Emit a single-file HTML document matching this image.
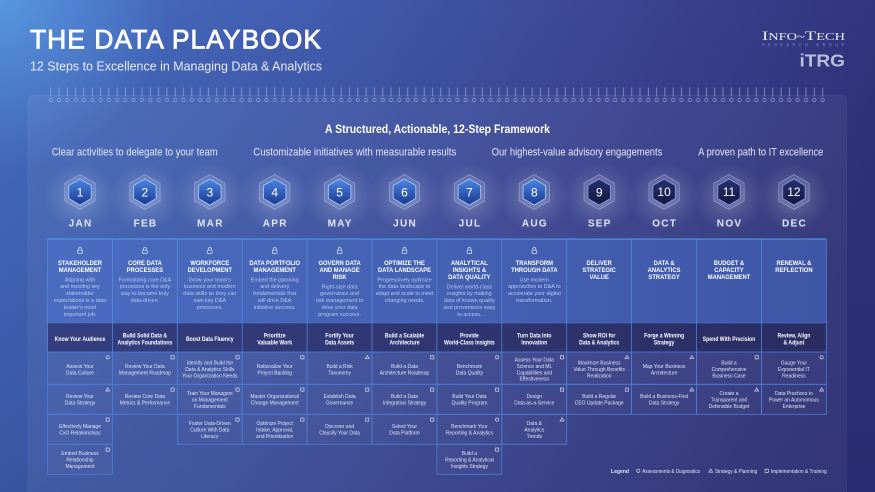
<!DOCTYPE html>
<html><head><meta charset="utf-8"><style>
html,body{margin:0;padding:0;background:#3a4a98;}
svg{display:block;}
text{font-family:"Liberation Sans",sans-serif;}
.ti{font-weight:bold;font-size:6.8px;fill:#fff;text-anchor:middle;}
.de{font-size:5.6px;fill:#b9c7ee;text-anchor:middle;}
.ba{font-weight:bold;font-size:6.4px;fill:#fff;text-anchor:middle;}
.ce{font-size:5.8px;fill:#dde5f8;text-anchor:middle;}
.mo{font-weight:bold;font-size:10px;fill:#e3e8f6;text-anchor:middle;letter-spacing:1.3px;}
.nu{font-size:12px;fill:#fff;text-anchor:middle;}
.sh{font-size:11px;fill:#e4e9f7;}
.lg{font-size:5.6px;fill:#dde5f8;}
.cell{fill:#ffffff;fill-opacity:.025;stroke:#4d7dd6;stroke-width:.8;}
.ic{fill:none;stroke:#d3dcf3;stroke-width:.7;}
</style></head><body>
<svg width="875" height="492" viewBox="0 0 875 492" xmlns="http://www.w3.org/2000/svg">
<defs>
<linearGradient id="bg" x1="0" y1="0" x2="875" y2="160" gradientUnits="userSpaceOnUse">
<stop offset="0" stop-color="#4670c4"/><stop offset=".35" stop-color="#425cae"/><stop offset=".7" stop-color="#3a4492"/><stop offset="1" stop-color="#30337a"/>
</linearGradient>
<linearGradient id="vd" x1="0" y1="0" x2="0" y2="1">
<stop offset="0" stop-color="#141650" stop-opacity="0"/><stop offset="1" stop-color="#141650" stop-opacity=".25"/>
</linearGradient>
<radialGradient id="tl" cx="0" cy="0" r="170" gradientUnits="userSpaceOnUse">
<stop offset="0" stop-color="#5fa6ec" stop-opacity=".7"/><stop offset="1" stop-color="#5fa6ec" stop-opacity="0"/>
</radialGradient>
<radialGradient id="gl">
<stop offset="0" stop-color="#ffffff" stop-opacity=".26"/><stop offset=".6" stop-color="#ffffff" stop-opacity=".08"/><stop offset="1" stop-color="#ffffff" stop-opacity="0"/>
</radialGradient>
<linearGradient id="hb" x1="0" y1="0" x2="0" y2="1">
<stop offset="0" stop-color="#4a86e2"/><stop offset="1" stop-color="#1a3990"/>
</linearGradient>
<linearGradient id="hd" x1="0" y1="0" x2="0" y2="1">
<stop offset="0" stop-color="#283072"/><stop offset="1" stop-color="#12173f"/>
</linearGradient>
<linearGradient id="ct" x1="47.5" y1="0" x2="826.3" y2="0" gradientUnits="userSpaceOnUse">
<stop offset="0" stop-color="#4a6cc0"/><stop offset="1" stop-color="#3f56a6"/>
</linearGradient>
<linearGradient id="bd" x1="47.5" y1="0" x2="826.3" y2="0" gradientUnits="userSpaceOnUse">
<stop offset="0" stop-color="#343f80"/><stop offset="1" stop-color="#2a2c62"/>
</linearGradient>
<pattern id="ring" x="46.5" y="84" width="8.3" height="20" patternUnits="userSpaceOnUse">
<line x1="4.2" y1="3.5" x2="4.2" y2="12.5" stroke="#a8b8e4" stroke-opacity=".75" stroke-width=".8"/>
<circle cx="4.2" cy="15.9" r="1.7" fill="none" stroke="#a8b8e4" stroke-opacity=".75" stroke-width=".7"/>
</pattern>
<g id="bb">
<polygon points="0,-17.5 15.16,-8.75 15.16,8.75 0,17.5 -15.16,8.75 -15.16,-8.75" fill="#ffffff" fill-opacity=".1" stroke="#c8d4ff" stroke-opacity=".45" stroke-width=".8"/>
<polygon points="0,-13 11.26,-6.5 11.26,6.5 0,13 -11.26,6.5 -11.26,-6.5" fill="url(#hb)" stroke="#9cc0f5" stroke-width="1"/>
</g>
<g id="bk">
<polygon points="0,-17.5 15.16,-8.75 15.16,8.75 0,17.5 -15.16,8.75 -15.16,-8.75" fill="#ffffff" fill-opacity=".1" stroke="#c8d4ff" stroke-opacity=".45" stroke-width=".8"/>
<polygon points="0,-13 11.26,-6.5 11.26,6.5 0,13 -11.26,6.5 -11.26,-6.5" fill="url(#hd)" stroke="#8198dc" stroke-width="1"/>
</g>
<ellipse id="gw" cx="0" cy="0" rx="36" ry="34" fill="url(#gl)"/>
<circle id="iC" cx="0" cy="0" r="1.6" class="ic"/>
<rect id="iS" x="-1.6" y="-1.6" width="3.2" height="3.2" class="ic"/>
<polygon id="iT" points="0,-1.8 1.9,1.4 -1.9,1.4" class="ic"/>
<g id="lk" fill="none" stroke="#dfe6f8" stroke-width=".7">
<path d="M-1.5 250.2 v-1.2 a1.5 1.5 0 0 1 3 0 v1.2"/>
<rect x="-2.3" y="250.2" width="4.6" height="3.2" rx=".4"/>
</g>
</defs>

<!-- background -->
<rect width="875" height="492" fill="url(#bg)"/>
<rect width="875" height="492" fill="url(#tl)"/>
<rect width="875" height="492" fill="url(#vd)"/>

<!-- panel -->
<rect x="28" y="95" width="818.5" height="410" rx="5" fill="#ffffff" fill-opacity=".05" stroke="#ffffff" stroke-opacity=".06" stroke-width=".8"/>
<rect x="46.5" y="84" width="780" height="20" fill="url(#ring)"/>

<!-- header -->
<text x="30" y="48.5" font-size="26.5" fill="#ffffff" stroke="#ffffff" stroke-width=".8" textLength="292" lengthAdjust="spacingAndGlyphs" letter-spacing="1">THE DATA PLAYBOOK</text>
<text x="30" y="70.5" font-size="12.5" fill="#e6ecf8" textLength="292" lengthAdjust="spacingAndGlyphs">12 Steps to Excellence in Managing Data &amp; Analytics</text>

<!-- logo -->
<text x="762" y="40" fill="#e8ebf6" textLength="83" lengthAdjust="spacingAndGlyphs" style="font-family:'Liberation Serif',serif"><tspan font-size="13">I</tspan><tspan font-size="10">NFO~</tspan><tspan font-size="13">T</tspan><tspan font-size="10">ECH</tspan></text>
<text x="762" y="45.8" font-size="3.6" fill="#9aa3cf" textLength="82" lengthAdjust="spacing">RESEARCH GROUP</text>
<text x="799.5" y="66.7" font-size="17.5" font-weight="bold" fill="#b9bfdc" textLength="45.5" lengthAdjust="spacingAndGlyphs">iTRG</text>

<!-- framework heading -->
<text x="325" y="133" font-size="12.3" font-weight="bold" fill="#ffffff" textLength="225" lengthAdjust="spacingAndGlyphs">A Structured, Actionable, 12-Step Framework</text>
<text class="sh" x="51.7" y="155.5" textLength="166" lengthAdjust="spacingAndGlyphs">Clear activities to delegate to your team</text>
<text class="sh" x="253.3" y="155.5" textLength="203" lengthAdjust="spacingAndGlyphs">Customizable initiatives with measurable results</text>
<text class="sh" x="491.7" y="155.5" textLength="170.6" lengthAdjust="spacingAndGlyphs">Our highest-value advisory engagements</text>
<text class="sh" x="698.3" y="155.5" textLength="125" lengthAdjust="spacingAndGlyphs">A proven path to IT excellence</text>

<!-- glows -->
<use href="#gw" x="80" y="197"/><use href="#gw" x="144.9" y="197"/><use href="#gw" x="209.8" y="197"/><use href="#gw" x="274.7" y="197"/>
<use href="#gw" x="339.6" y="197"/><use href="#gw" x="404.5" y="197"/><use href="#gw" x="469.4" y="197"/><use href="#gw" x="534.3" y="197"/>
<use href="#gw" x="599.2" y="197"/><use href="#gw" x="664.1" y="197"/><use href="#gw" x="729" y="197"/><use href="#gw" x="793.9" y="197"/>

<!-- badges -->
<use href="#bb" x="80" y="192"/><use href="#bb" x="144.9" y="192"/><use href="#bb" x="209.8" y="192"/><use href="#bb" x="274.7" y="192"/>
<use href="#bb" x="339.6" y="192"/><use href="#bb" x="404.5" y="192"/><use href="#bb" x="469.4" y="192"/><use href="#bb" x="534.3" y="192"/>
<use href="#bk" x="599.2" y="192"/><use href="#bk" x="664.1" y="192"/><use href="#bk" x="729" y="192"/><use href="#bk" x="793.9" y="192"/>
<text class="nu" x="80" y="196.3">1</text><text class="nu" x="144.9" y="196.3">2</text><text class="nu" x="209.8" y="196.3">3</text><text class="nu" x="274.7" y="196.3">4</text>
<text class="nu" x="339.6" y="196.3">5</text><text class="nu" x="404.5" y="196.3">6</text><text class="nu" x="469.4" y="196.3">7</text><text class="nu" x="534.3" y="196.3">8</text>
<text class="nu" x="599.2" y="196.3">9</text><text class="nu" x="664.1" y="196" font-size="11">10</text><text class="nu" x="729" y="196" font-size="11">11</text><text class="nu" x="793.9" y="196" font-size="11">12</text>

<!-- months -->
<text class="mo" x="80.6" y="226.5">JAN</text><text class="mo" x="145.5" y="226.5">FEB</text><text class="mo" x="210.4" y="226.5">MAR</text><text class="mo" x="275.3" y="226.5">APR</text>
<text class="mo" x="340.2" y="226.5">MAY</text><text class="mo" x="405.1" y="226.5">JUN</text><text class="mo" x="470" y="226.5">JUL</text><text class="mo" x="534.9" y="226.5">AUG</text>
<text class="mo" x="599.8" y="226.5">SEP</text><text class="mo" x="664.7" y="226.5">OCT</text><text class="mo" x="729.6" y="226.5">NOV</text><text class="mo" x="794.5" y="226.5">DEC</text>

<!-- cards top -->
<rect x="47.5" y="239" width="778.8" height="84" fill="url(#ct)"/>
<rect x="47.5" y="323" width="778.8" height="29" fill="url(#bd)"/>
<line x1="47.5" y1="239" x2="826.3" y2="239" stroke="#4fa0ee" stroke-width="1"/>
<g stroke="#5a8fe0" stroke-width=".8" stroke-opacity=".85">
<line x1="47.5" y1="239" x2="47.5" y2="352"/><line x1="112.4" y1="239" x2="112.4" y2="352"/><line x1="177.3" y1="239" x2="177.3" y2="352"/>
<line x1="242.2" y1="239" x2="242.2" y2="352"/><line x1="307.1" y1="239" x2="307.1" y2="352"/><line x1="372" y1="239" x2="372" y2="352"/>
<line x1="436.9" y1="239" x2="436.9" y2="352"/><line x1="501.8" y1="239" x2="501.8" y2="352"/><line x1="566.7" y1="239" x2="566.7" y2="352"/>
<line x1="631.6" y1="239" x2="631.6" y2="352"/><line x1="696.5" y1="239" x2="696.5" y2="352"/><line x1="761.4" y1="239" x2="761.4" y2="352"/>
<line x1="826.3" y1="239" x2="826.3" y2="352"/>
<line x1="47.5" y1="323" x2="826.3" y2="323" stroke-opacity=".5"/>
</g>

<!-- locks -->
<use href="#lk" x="80"/><use href="#lk" x="144.9"/><use href="#lk" x="209.8"/><use href="#lk" x="274.7"/>
<use href="#lk" x="339.6"/><use href="#lk" x="404.5"/><use href="#lk" x="469.4"/><use href="#lk" x="534.3"/>

<!-- card titles -->
<text class="ti" transform="translate(80 264.8) scale(.86 1)"><tspan x="0">STAKEHOLDER</tspan><tspan x="0" dy="7">MANAGEMENT</tspan></text>
<text class="ti" transform="translate(144.9 264.8) scale(.86 1)"><tspan x="0">CORE DATA</tspan><tspan x="0" dy="7">PROCESSES</tspan></text>
<text class="ti" transform="translate(209.8 264.8) scale(.86 1)"><tspan x="0">WORKFORCE</tspan><tspan x="0" dy="7">DEVELOPMENT</tspan></text>
<text class="ti" transform="translate(274.7 264.8) scale(.86 1)"><tspan x="0">DATA PORTFOLIO</tspan><tspan x="0" dy="7">MANAGEMENT</tspan></text>
<text class="ti" transform="translate(339.6 264.8) scale(.86 1)"><tspan x="0">GOVERN DATA</tspan><tspan x="0" dy="7">AND MANAGE</tspan><tspan x="0" dy="7">RISK</tspan></text>
<text class="ti" transform="translate(404.5 264.8) scale(.86 1)"><tspan x="0">OPTIMIZE THE</tspan><tspan x="0" dy="7">DATA LANDSCAPE</tspan></text>
<text class="ti" transform="translate(469.4 264.8) scale(.86 1)"><tspan x="0">ANALYTICAL</tspan><tspan x="0" dy="7">INSIGHTS &amp;</tspan><tspan x="0" dy="7">DATA QUALITY</tspan></text>
<text class="ti" transform="translate(534.3 264.8) scale(.86 1)"><tspan x="0">TRANSFORM</tspan><tspan x="0" dy="7">THROUGH DATA</tspan></text>
<text class="ti" transform="translate(599.2 264.8) scale(.86 1)"><tspan x="0">DELIVER</tspan><tspan x="0" dy="7">STRATEGIC</tspan><tspan x="0" dy="7">VALUE</tspan></text>
<text class="ti" transform="translate(664.1 264.8) scale(.86 1)"><tspan x="0">DATA &amp;</tspan><tspan x="0" dy="7">ANALYTICS</tspan><tspan x="0" dy="7">STRATEGY</tspan></text>
<text class="ti" transform="translate(729 264.8) scale(.86 1)"><tspan x="0">BUDGET &amp;</tspan><tspan x="0" dy="7">CAPACITY</tspan><tspan x="0" dy="7">MANAGEMENT</tspan></text>
<text class="ti" transform="translate(793.9 264.8) scale(.86 1)"><tspan x="0">RENEWAL &amp;</tspan><tspan x="0" dy="7">REFLECTION</tspan></text>

<!-- descriptions -->
<text class="de" transform="translate(80 281.3) scale(.97 1)"><tspan x="0">Aligning with</tspan><tspan x="0" dy="6.9">and meeting key</tspan><tspan x="0" dy="6.9">stakeholder</tspan><tspan x="0" dy="6.9">expectations is a data</tspan><tspan x="0" dy="6.9">leader's most</tspan><tspan x="0" dy="6.9">important job.</tspan></text>
<text class="de" transform="translate(144.9 281.3) scale(.97 1)"><tspan x="0">Formalizing core D&amp;A</tspan><tspan x="0" dy="6.9">processes is the only</tspan><tspan x="0" dy="6.9">way to become truly</tspan><tspan x="0" dy="6.9">data-driven.</tspan></text>
<text class="de" transform="translate(209.8 281.3) scale(.97 1)"><tspan x="0">Grow your team's</tspan><tspan x="0" dy="6.9">business and modern</tspan><tspan x="0" dy="6.9">data skills so they can</tspan><tspan x="0" dy="6.9">own key D&amp;A</tspan><tspan x="0" dy="6.9">processes.</tspan></text>
<text class="de" transform="translate(274.7 281.3) scale(.97 1)"><tspan x="0">Embed the planning</tspan><tspan x="0" dy="6.9">and delivery</tspan><tspan x="0" dy="6.9">fundamentals that</tspan><tspan x="0" dy="6.9">will drive D&amp;A</tspan><tspan x="0" dy="6.9">initiative success.</tspan></text>
<text class="de" transform="translate(339.6 288.3) scale(.97 1)"><tspan x="0">Right-size data</tspan><tspan x="0" dy="6.9">governance and</tspan><tspan x="0" dy="6.9">risk management to</tspan><tspan x="0" dy="6.9">drive your data</tspan><tspan x="0" dy="6.9">program success.</tspan></text>
<text class="de" transform="translate(404.5 281.3) scale(.97 1)"><tspan x="0">Progressively optimize</tspan><tspan x="0" dy="6.9">the data landscape to</tspan><tspan x="0" dy="6.9">adapt and scale to meet</tspan><tspan x="0" dy="6.9">changing needs.</tspan></text>
<text class="de" transform="translate(469.4 288.3) scale(.97 1)"><tspan x="0">Deliver world-class</tspan><tspan x="0" dy="6.9">insights by making</tspan><tspan x="0" dy="6.9">data of known quality</tspan><tspan x="0" dy="6.9">and provenance easy</tspan><tspan x="0" dy="6.9">to access.</tspan></text>
<text class="de" transform="translate(534.3 281.3) scale(.97 1)"><tspan x="0">Use modern</tspan><tspan x="0" dy="6.9">approaches to D&amp;A to</tspan><tspan x="0" dy="6.9">accelerate your digital</tspan><tspan x="0" dy="6.9">transformation.</tspan></text>

<!-- band -->
<text class="ba" transform="translate(80 341) scale(.8 1)">Know Your Audience</text>
<text class="ba" transform="translate(144.9 337.3) scale(.8 1)"><tspan x="0">Build Solid Data &amp;</tspan><tspan x="0" dy="7">Analytics Foundations</tspan></text>
<text class="ba" transform="translate(209.8 341) scale(.8 1)">Boost Data Fluency</text>
<text class="ba" transform="translate(274.7 337.3) scale(.8 1)"><tspan x="0">Prioritize</tspan><tspan x="0" dy="7">Valuable Work</tspan></text>
<text class="ba" transform="translate(339.6 337.3) scale(.8 1)"><tspan x="0">Fortify Your</tspan><tspan x="0" dy="7">Data Assets</tspan></text>
<text class="ba" transform="translate(404.5 337.3) scale(.8 1)"><tspan x="0">Build a Scalable</tspan><tspan x="0" dy="7">Architecture</tspan></text>
<text class="ba" transform="translate(469.4 337.3) scale(.8 1)"><tspan x="0">Provide</tspan><tspan x="0" dy="7">World-Class Insights</tspan></text>
<text class="ba" transform="translate(534.3 337.3) scale(.8 1)"><tspan x="0">Turn Data Into</tspan><tspan x="0" dy="7">Innovation</tspan></text>
<text class="ba" transform="translate(599.2 337.3) scale(.8 1)"><tspan x="0">Show ROI for</tspan><tspan x="0" dy="7">Data &amp; Analytics</tspan></text>
<text class="ba" transform="translate(664.1 337.3) scale(.8 1)"><tspan x="0">Forge a Winning</tspan><tspan x="0" dy="7">Strategy</tspan></text>
<text class="ba" transform="translate(729 341) scale(.8 1)">Spend With Precision</text>
<text class="ba" transform="translate(793.9 337.3) scale(.8 1)"><tspan x="0">Review, Align</tspan><tspan x="0" dy="7">&amp; Adjust</tspan></text>

<!-- grid cells -->
<g>
<rect class="cell" x="47.5" y="352" width="64.9" height="32.3"/><rect class="cell" x="47.5" y="384.3" width="64.9" height="30"/><rect class="cell" x="47.5" y="414.3" width="64.9" height="30"/><rect class="cell" x="47.5" y="444.3" width="64.9" height="30"/>
<rect class="cell" x="112.4" y="352" width="64.9" height="32.3"/><rect class="cell" x="112.4" y="384.3" width="64.9" height="30"/>
<rect class="cell" x="177.3" y="352" width="64.9" height="32.3"/><rect class="cell" x="177.3" y="384.3" width="64.9" height="30"/><rect class="cell" x="177.3" y="414.3" width="64.9" height="30"/>
<rect class="cell" x="242.2" y="352" width="64.9" height="32.3"/><rect class="cell" x="242.2" y="384.3" width="64.9" height="30"/><rect class="cell" x="242.2" y="414.3" width="64.9" height="30"/>
<rect class="cell" x="307.1" y="352" width="64.9" height="32.3"/><rect class="cell" x="307.1" y="384.3" width="64.9" height="30"/><rect class="cell" x="307.1" y="414.3" width="64.9" height="30"/>
<rect class="cell" x="372" y="352" width="64.9" height="32.3"/><rect class="cell" x="372" y="384.3" width="64.9" height="30"/><rect class="cell" x="372" y="414.3" width="64.9" height="30"/>
<rect class="cell" x="436.9" y="352" width="64.9" height="32.3"/><rect class="cell" x="436.9" y="384.3" width="64.9" height="30"/><rect class="cell" x="436.9" y="414.3" width="64.9" height="30"/><rect class="cell" x="436.9" y="444.3" width="64.9" height="30"/>
<rect class="cell" x="501.8" y="352" width="64.9" height="32.3"/><rect class="cell" x="501.8" y="384.3" width="64.9" height="30"/><rect class="cell" x="501.8" y="414.3" width="64.9" height="30"/>
<rect class="cell" x="566.7" y="352" width="64.9" height="32.3"/><rect class="cell" x="566.7" y="384.3" width="64.9" height="30"/>
<rect class="cell" x="631.6" y="352" width="64.9" height="32.3"/><rect class="cell" x="631.6" y="384.3" width="64.9" height="30"/>
<rect class="cell" x="696.5" y="352" width="64.9" height="32.3"/><rect class="cell" x="696.5" y="384.3" width="64.9" height="30"/>
<rect class="cell" x="761.4" y="352" width="64.9" height="32.3"/><rect class="cell" x="761.4" y="384.3" width="64.9" height="30"/>
</g>

<!-- icons -->
<use href="#iC" x="107.7" y="357.3"/><use href="#iT" x="107.7" y="389.6"/><use href="#iS" x="107.7" y="419.6"/><use href="#iS" x="107.7" y="449.6"/>
<use href="#iS" x="172.6" y="357.3"/><use href="#iS" x="172.6" y="389.6"/>
<use href="#iS" x="237.5" y="357.3"/><use href="#iS" x="237.5" y="389.6"/><use href="#iS" x="237.5" y="419.6"/>
<use href="#iS" x="302.4" y="357.3"/><use href="#iS" x="302.4" y="389.6"/><use href="#iS" x="302.4" y="419.6"/>
<use href="#iT" x="367.3" y="357.3"/><use href="#iS" x="367.3" y="389.6"/><use href="#iS" x="367.3" y="419.6"/>
<use href="#iS" x="432.2" y="357.3"/><use href="#iS" x="432.2" y="389.6"/><use href="#iS" x="432.2" y="419.6"/>
<use href="#iC" x="497.1" y="357.3"/><use href="#iS" x="497.1" y="389.6"/><use href="#iC" x="497.1" y="419.6"/><use href="#iS" x="497.1" y="449.6"/>
<use href="#iS" x="562" y="357.3"/><use href="#iS" x="562" y="389.6"/><use href="#iT" x="562" y="419.6"/>
<use href="#iT" x="626.9" y="357.3"/><use href="#iS" x="626.9" y="389.6"/>
<use href="#iT" x="691.8" y="357.3"/><use href="#iT" x="691.8" y="389.6"/>
<use href="#iS" x="756.7" y="357.3"/><use href="#iT" x="756.7" y="389.6"/>
<use href="#iC" x="821.6" y="357.3"/><use href="#iT" x="821.6" y="389.6"/>

<!-- cell texts -->
<text class="ce" transform="translate(80 367.9) scale(.86 1)"><tspan x="0">Assess Your</tspan><tspan x="0" dy="6.4">Data Culture</tspan></text>
<text class="ce" transform="translate(80 398.2) scale(.86 1)"><tspan x="0">Review Your</tspan><tspan x="0" dy="6.4">Data Strategy</tspan></text>
<text class="ce" transform="translate(80 428.2) scale(.86 1)"><tspan x="0">Effectively Manage</tspan><tspan x="0" dy="6.4">CxO Relationships</tspan></text>
<text class="ce" transform="translate(80 455) scale(.86 1)"><tspan x="0">Embed Business</tspan><tspan x="0" dy="6.4">Relationship</tspan><tspan x="0" dy="6.4">Management</tspan></text>

<text class="ce" transform="translate(144.9 367.9) scale(.86 1)"><tspan x="0">Review Your Data</tspan><tspan x="0" dy="6.4">Management Roadmap</tspan></text>
<text class="ce" transform="translate(144.9 398.2) scale(.86 1)"><tspan x="0">Review Core Data</tspan><tspan x="0" dy="6.4">Metrics &amp; Performance</tspan></text>

<text class="ce" transform="translate(209.8 364.7) scale(.86 1)"><tspan x="0">Identify and Build the</tspan><tspan x="0" dy="6.4">Data &amp; Analytics Skills</tspan><tspan x="0" dy="6.4">Your Organization Needs</tspan></text>
<text class="ce" transform="translate(209.8 395) scale(.86 1)"><tspan x="0">Train Your Managers</tspan><tspan x="0" dy="6.4">on Management</tspan><tspan x="0" dy="6.4">Fundamentals</tspan></text>
<text class="ce" transform="translate(209.8 425) scale(.86 1)"><tspan x="0">Foster Data-Driven</tspan><tspan x="0" dy="6.4">Culture With Data</tspan><tspan x="0" dy="6.4">Literacy</tspan></text>

<text class="ce" transform="translate(274.7 367.9) scale(.86 1)"><tspan x="0">Rationalize Your</tspan><tspan x="0" dy="6.4">Project Backlog</tspan></text>
<text class="ce" transform="translate(274.7 398.2) scale(.86 1)"><tspan x="0">Master Organizational</tspan><tspan x="0" dy="6.4">Change Management</tspan></text>
<text class="ce" transform="translate(274.7 425) scale(.86 1)"><tspan x="0">Optimize Project</tspan><tspan x="0" dy="6.4">Intake, Approval,</tspan><tspan x="0" dy="6.4">and Prioritization</tspan></text>

<text class="ce" transform="translate(339.6 367.9) scale(.86 1)"><tspan x="0">Build a Risk</tspan><tspan x="0" dy="6.4">Taxonomy</tspan></text>
<text class="ce" transform="translate(339.6 398.2) scale(.86 1)"><tspan x="0">Establish Data</tspan><tspan x="0" dy="6.4">Governance</tspan></text>
<text class="ce" transform="translate(339.6 428.2) scale(.86 1)"><tspan x="0">Discover and</tspan><tspan x="0" dy="6.4">Classify Your Data</tspan></text>

<text class="ce" transform="translate(404.5 367.9) scale(.86 1)"><tspan x="0">Build a Data</tspan><tspan x="0" dy="6.4">Architecture Roadmap</tspan></text>
<text class="ce" transform="translate(404.5 398.2) scale(.86 1)"><tspan x="0">Build a Data</tspan><tspan x="0" dy="6.4">Integration Strategy</tspan></text>
<text class="ce" transform="translate(404.5 428.2) scale(.86 1)"><tspan x="0">Select Your</tspan><tspan x="0" dy="6.4">Data Platform</tspan></text>

<text class="ce" transform="translate(469.4 367.9) scale(.86 1)"><tspan x="0">Benchmark</tspan><tspan x="0" dy="6.4">Data Quality</tspan></text>
<text class="ce" transform="translate(469.4 398.2) scale(.86 1)"><tspan x="0">Build Your Data</tspan><tspan x="0" dy="6.4">Quality Program</tspan></text>
<text class="ce" transform="translate(469.4 428.2) scale(.86 1)"><tspan x="0">Benchmark Your</tspan><tspan x="0" dy="6.4">Reporting &amp; Analytics</tspan></text>
<text class="ce" transform="translate(469.4 455) scale(.86 1)"><tspan x="0">Build a</tspan><tspan x="0" dy="6.4">Reporting &amp; Analytical</tspan><tspan x="0" dy="6.4">Insights Strategy</tspan></text>

<text class="ce" transform="translate(534.3 361.5) scale(.86 1)"><tspan x="0">Assess Your Data</tspan><tspan x="0" dy="6.4">Science and ML</tspan><tspan x="0" dy="6.4">Capabilities and</tspan><tspan x="0" dy="6.4">Effectiveness</tspan></text>
<text class="ce" transform="translate(534.3 398.2) scale(.86 1)"><tspan x="0">Design</tspan><tspan x="0" dy="6.4">Data-as-a-Service</tspan></text>
<text class="ce" transform="translate(534.3 425) scale(.86 1)"><tspan x="0">Data &amp;</tspan><tspan x="0" dy="6.4">Analytics</tspan><tspan x="0" dy="6.4">Trends</tspan></text>

<text class="ce" transform="translate(599.2 364.7) scale(.86 1)"><tspan x="0">Maximize Business</tspan><tspan x="0" dy="6.4">Value Through Benefits</tspan><tspan x="0" dy="6.4">Realization</tspan></text>
<text class="ce" transform="translate(599.2 398.2) scale(.86 1)"><tspan x="0">Build a Regular</tspan><tspan x="0" dy="6.4">CEO Update Package</tspan></text>

<text class="ce" transform="translate(664.1 367.9) scale(.86 1)"><tspan x="0">Map Your Business</tspan><tspan x="0" dy="6.4">Architecture</tspan></text>
<text class="ce" transform="translate(664.1 398.2) scale(.86 1)"><tspan x="0">Build a Business-First</tspan><tspan x="0" dy="6.4">Data Strategy</tspan></text>

<text class="ce" transform="translate(729 364.7) scale(.86 1)"><tspan x="0">Build a</tspan><tspan x="0" dy="6.4">Comprehensive</tspan><tspan x="0" dy="6.4">Business Case</tspan></text>
<text class="ce" transform="translate(729 395) scale(.86 1)"><tspan x="0">Create a</tspan><tspan x="0" dy="6.4">Transparent and</tspan><tspan x="0" dy="6.4">Defensible Budget</tspan></text>

<text class="ce" transform="translate(793.9 364.7) scale(.86 1)"><tspan x="0">Gauge Your</tspan><tspan x="0" dy="6.4">Exponential IT</tspan><tspan x="0" dy="6.4">Readiness</tspan></text>
<text class="ce" transform="translate(793.9 395) scale(.86 1)"><tspan x="0">Data Practices to</tspan><tspan x="0" dy="6.4">Power an Autonomous</tspan><tspan x="0" dy="6.4">Enterprise</tspan></text>

<!-- legend -->
<text class="lg" x="611" y="472.8" font-weight="bold" textLength="18" lengthAdjust="spacingAndGlyphs">Legend</text>
<use href="#iC" x="638.3" y="470.8"/>
<text class="lg" x="642.3" y="472.8" textLength="57.7" lengthAdjust="spacingAndGlyphs">Assessments &amp; Diagnostics</text>
<use href="#iT" x="710.7" y="470.8"/>
<text class="lg" x="714.7" y="472.8" textLength="42.6" lengthAdjust="spacingAndGlyphs">Strategy &amp; Planning</text>
<use href="#iS" x="766.7" y="470.8"/>
<text class="lg" x="770.7" y="472.8" textLength="56" lengthAdjust="spacingAndGlyphs">Implementation &amp; Training</text>
</svg>
</body></html>
